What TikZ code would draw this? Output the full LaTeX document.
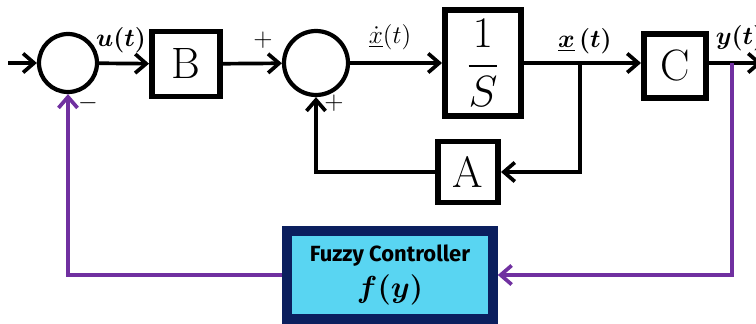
\documentclass[tikz,border=0pt]{standalone}
\usepackage{amsmath,bm}
\usepackage{fontspec}
\newfontfamily\fuzzyfont{Fira Sans}
\definecolor{fbpurple}{HTML}{7030A0}
\definecolor{fuzzyfill}{HTML}{59D5F2}
\definecolor{fuzzyedge}{HTML}{0B1F5E}
\usetikzlibrary{arrows.meta}
\begin{document}
\begin{tikzpicture}[x=0.02cm,y=-0.02cm,>={Straight Barb[length=2.2mm,width=3.8mm]},line width=2.1pt,
  sumnode/.style={draw,circle,inner sep=0pt,minimum size=1.16cm,line width=2.4pt},
  blk/.style={draw,rectangle,inner sep=0pt,line width=3.4pt,font=\fontsize{25}{30}\selectfont},
  fuzzybox/.style={draw=fuzzyedge,fill=fuzzyfill,rectangle,line width=5.5pt,align=center,
    minimum width=4.12cm,minimum height=1.76cm,font=\fuzzyfont\bfseries\fontsize{12.5}{21}\selectfont},
  fb/.style={draw=fbpurple,line width=2.1pt},
  sig/.style={font=\fontsize{14}{16}\selectfont}]
  \useasboundingbox (0,0) rectangle (756,324);

  \coordinate (in) at (8,63);
  \coordinate (br) at (580,63);
  \coordinate (yb) at (732,63);
  \coordinate (out) at (762,63);

  \node[sumnode] (s1) at (68,63) {};
  \node[blk,minimum width=1.36cm,minimum height=1.3cm] (B) at (186,64) {B};
  \node[sumnode,minimum width=1.28cm] (s2) at (316,63) {};
  \node[blk,minimum width=1.52cm,minimum height=2.12cm] (int) at (483,63) {$\dfrac{1}{S}$};
  \node[blk,minimum width=1.24cm,minimum height=1.28cm] (C) at (675,66) {C};
  \node[blk,minimum width=1.2cm,minimum height=1.22cm] (A) at (468,172) {A};
  \node[fuzzybox] (F) at (390,275) {Fuzzy Controller\\ {\fontsize{16}{18}\selectfont$\bm{f(y)}$}};

  \draw[->] (in) -- (s1);
  \draw[->] (s1) -- (B);
  \draw[->] (B) -- (s2);
  \draw[->] (s2) -- (int);
  \draw[->] (int) -- (C.west |- br);
  \draw[->] (C.east |- out) -- (out);
  \draw[->] (br) |- (A);
  \draw[->] (A) -| (s2);
  \draw[fb,->] (yb) |- (F);
  \draw[fb,->] (F) -| (s1);

  \node[sig] at (121,40) {$\bm{u(t)}$};
  \node[sig] at (263,40) {$+$};
  \node[sig] at (390,37) {$\underline{\dot{x}}(t)$};
  \node[sig] at (585,41) {$\underline{\bm{x}}\,\bm{(t)}$};
  \node[sig] at (740,38) {$\bm{y(t)}$};
  \node[sig] at (88,103) {$-$};
  \node[sig] at (334,103) {$+$};
\end{tikzpicture}
\end{document}
